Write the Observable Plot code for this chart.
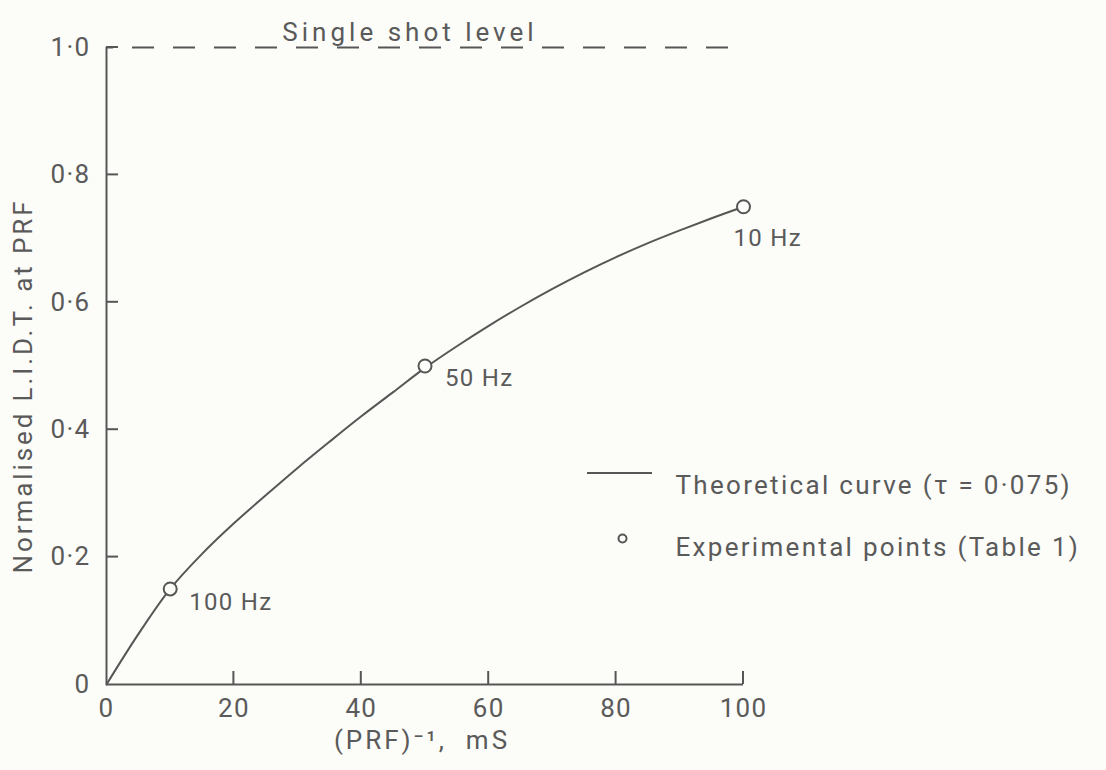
<!DOCTYPE html>
<html><head><meta charset="utf-8">
<script src="https://cdn.jsdelivr.net/npm/d3@7"></script>
<script src="https://cdn.jsdelivr.net/npm/@observablehq/plot@0.6"></script>
<style>
html,body{margin:0;padding:0;background:#fcfcf8;}
#chart svg{display:block}
#chart svg text{letter-spacing:1.3px}
</style></head><body><div id="chart"></div>
<script>
// Theoretical curve
const curveX = [0, 5, 10, 15, 20, 25, 30, 35, 40, 45, 50, 55, 60, 65, 70, 75, 80, 85, 90, 95, 100];
const curveY = [0, 0.079, 0.150, 0.205, 0.253, 0.297, 0.340, 0.381, 0.421, 0.459, 0.497, 0.531, 0.563, 0.593, 0.621, 0.647, 0.671, 0.693, 0.713, 0.732, 0.750];
// Experimental points
const pointX = [10, 50, 100];
const pointY = [0.15, 0.50, 0.75];
const pointLabels = ["100 Hz", "50 Hz", "10 Hz"];
// Axes
const xTicks = [0, 20, 40, 60, 80, 100];
const yTicks = [0, 0.2, 0.4, 0.6, 0.8, 1.0];
const yTickLabels = ["0", "0·2", "0·4", "0·6", "0·8", "1·0"];
const singleShotLevel = [1.0];
const xLabel = "(PRF)⁻¹,  mS";
const yLabel = "Normalised L.I.D.T. at PRF";
const topLabel = "Single shot level";
const legendLineLabel = "Theoretical curve (τ = 0·075)";
const legendPointLabel = "Experimental points (Table 1)";

const W = 1106, H = 770, mL = 106, mR = 363, mT = 47, mB = 86;
const ink = "#565656", textInk = "#5a5a5a", bg = "#fcfcf8";
const font = "Roboto, 'DejaVu Sans', sans-serif";

const curve = curveX.map((x, i) => ({x, y: curveY[i]}));
const points = pointX.map((x, i) => ({x, y: pointY[i], label: pointLabels[i]}));
const labelOffsets = [[19, 13], [20, 12], [-10, 32]];

// inward ticks drawn through the scales
const inwardTicks = (index, scales) => {
  const g = d3.create("svg:g").attr("stroke", ink).attr("stroke-width", 2);
  const x0 = scales.x(xTicks[0]), y0 = scales.y(yTicks[0]);
  for (const v of yTicks.slice(1)) {
    const y = scales.y(v);
    g.append("line").attr("x1", x0).attr("x2", x0 + 12).attr("y1", y).attr("y2", y);
  }
  for (const v of xTicks.slice(1)) {
    const x = scales.x(v);
    g.append("line").attr("x1", x).attr("x2", x).attr("y1", y0).attr("y2", y0 - 13);
  }
  return g.node();
};

const legendLine = (index, scales, values, dim) => {
  const right = dim.width - dim.marginRight;
  return d3.create("svg:line")
    .attr("x1", right - 156).attr("x2", right - 91)
    .attr("y1", dim.marginTop + 426).attr("y2", dim.marginTop + 426)
    .attr("stroke", ink).attr("stroke-width", 2).node();
};

const chart = Plot.plot({
  width: W, height: H,
  marginLeft: mL, marginRight: mR, marginTop: mT, marginBottom: mB,
  x: {domain: [xTicks[0], xTicks[xTicks.length - 1]]},
  y: {domain: [yTicks[0], yTicks[yTicks.length - 1]]},
  style: {background: "transparent", fontFamily: font, color: textInk, fontSize: "24px"},
  marks: [
    Plot.ruleX([xTicks[0]], {stroke: ink, strokeWidth: 2}),
    Plot.ruleY([yTicks[0]], {stroke: ink, strokeWidth: 2}),
    inwardTicks,
    Plot.ruleY(singleShotLevel, {stroke: ink, strokeWidth: 2, strokeDasharray: "22,19", strokeDashoffset: -26}),
    Plot.axisX({ticks: xTicks, tickSize: 0, tickPadding: 14, fontSize: 26, label: null}),
    Plot.axisY({ticks: yTicks, tickSize: 0, tickPadding: 16, fontSize: 26, label: null,
      tickFormat: d => yTickLabels[yTicks.indexOf(d)]}),
    Plot.line(curve, {x: "x", y: "y", curve: "catmull-rom", stroke: ink, strokeWidth: 2}),
    Plot.dot(points, {x: "x", y: "y", r: 6.5, fill: bg, stroke: ink, strokeWidth: 2}),
    ...points.map((p, i) => Plot.text([p], {x: "x", y: "y", text: "label", textAnchor: "start",
      dx: labelOffsets[i][0], dy: labelOffsets[i][1], fontSize: 24, fill: textInk})),
    Plot.text([topLabel], {frameAnchor: "top", text: d => d, textAnchor: "middle", dx: -15, dy: -25, fontSize: 26, fill: textInk}),
    Plot.text([xLabel], {frameAnchor: "bottom", text: d => d, textAnchor: "middle", dx: -3, dy: 64, fontSize: 26, fill: textInk}),
    Plot.text([yLabel], {frameAnchor: "left", text: d => d, textAnchor: "middle", rotate: -90, dx: -83, dy: 20, fontSize: 26, fill: textInk}),
    legendLine,
    Plot.dot([legendPointLabel], {frameAnchor: "top-right", dx: -121, dy: 491, r: 4, fill: bg, stroke: ink, strokeWidth: 2}),
    Plot.text([legendLineLabel], {frameAnchor: "top-right", text: d => d, textAnchor: "start", dx: -68, dy: 428, fontSize: 26, fill: textInk}),
    Plot.text([legendPointLabel], {frameAnchor: "top-right", text: d => d, textAnchor: "start", dx: -68, dy: 490, fontSize: 26, fill: textInk})
  ]
});
// letter spacing of the hand-lettered texts
const spacing = new Map([[topLabel, "4px"], [yLabel, "2.9px"], [xLabel, "3px"], [legendLineLabel, "2.3px"], [legendPointLabel, "2.3px"]]);
d3.select(chart).selectAll("text").each(function() {
  const s = spacing.get(this.textContent);
  if (s) this.setAttribute("style", "letter-spacing:" + s);
});
document.getElementById("chart").append(chart);
</script>
</body></html>
